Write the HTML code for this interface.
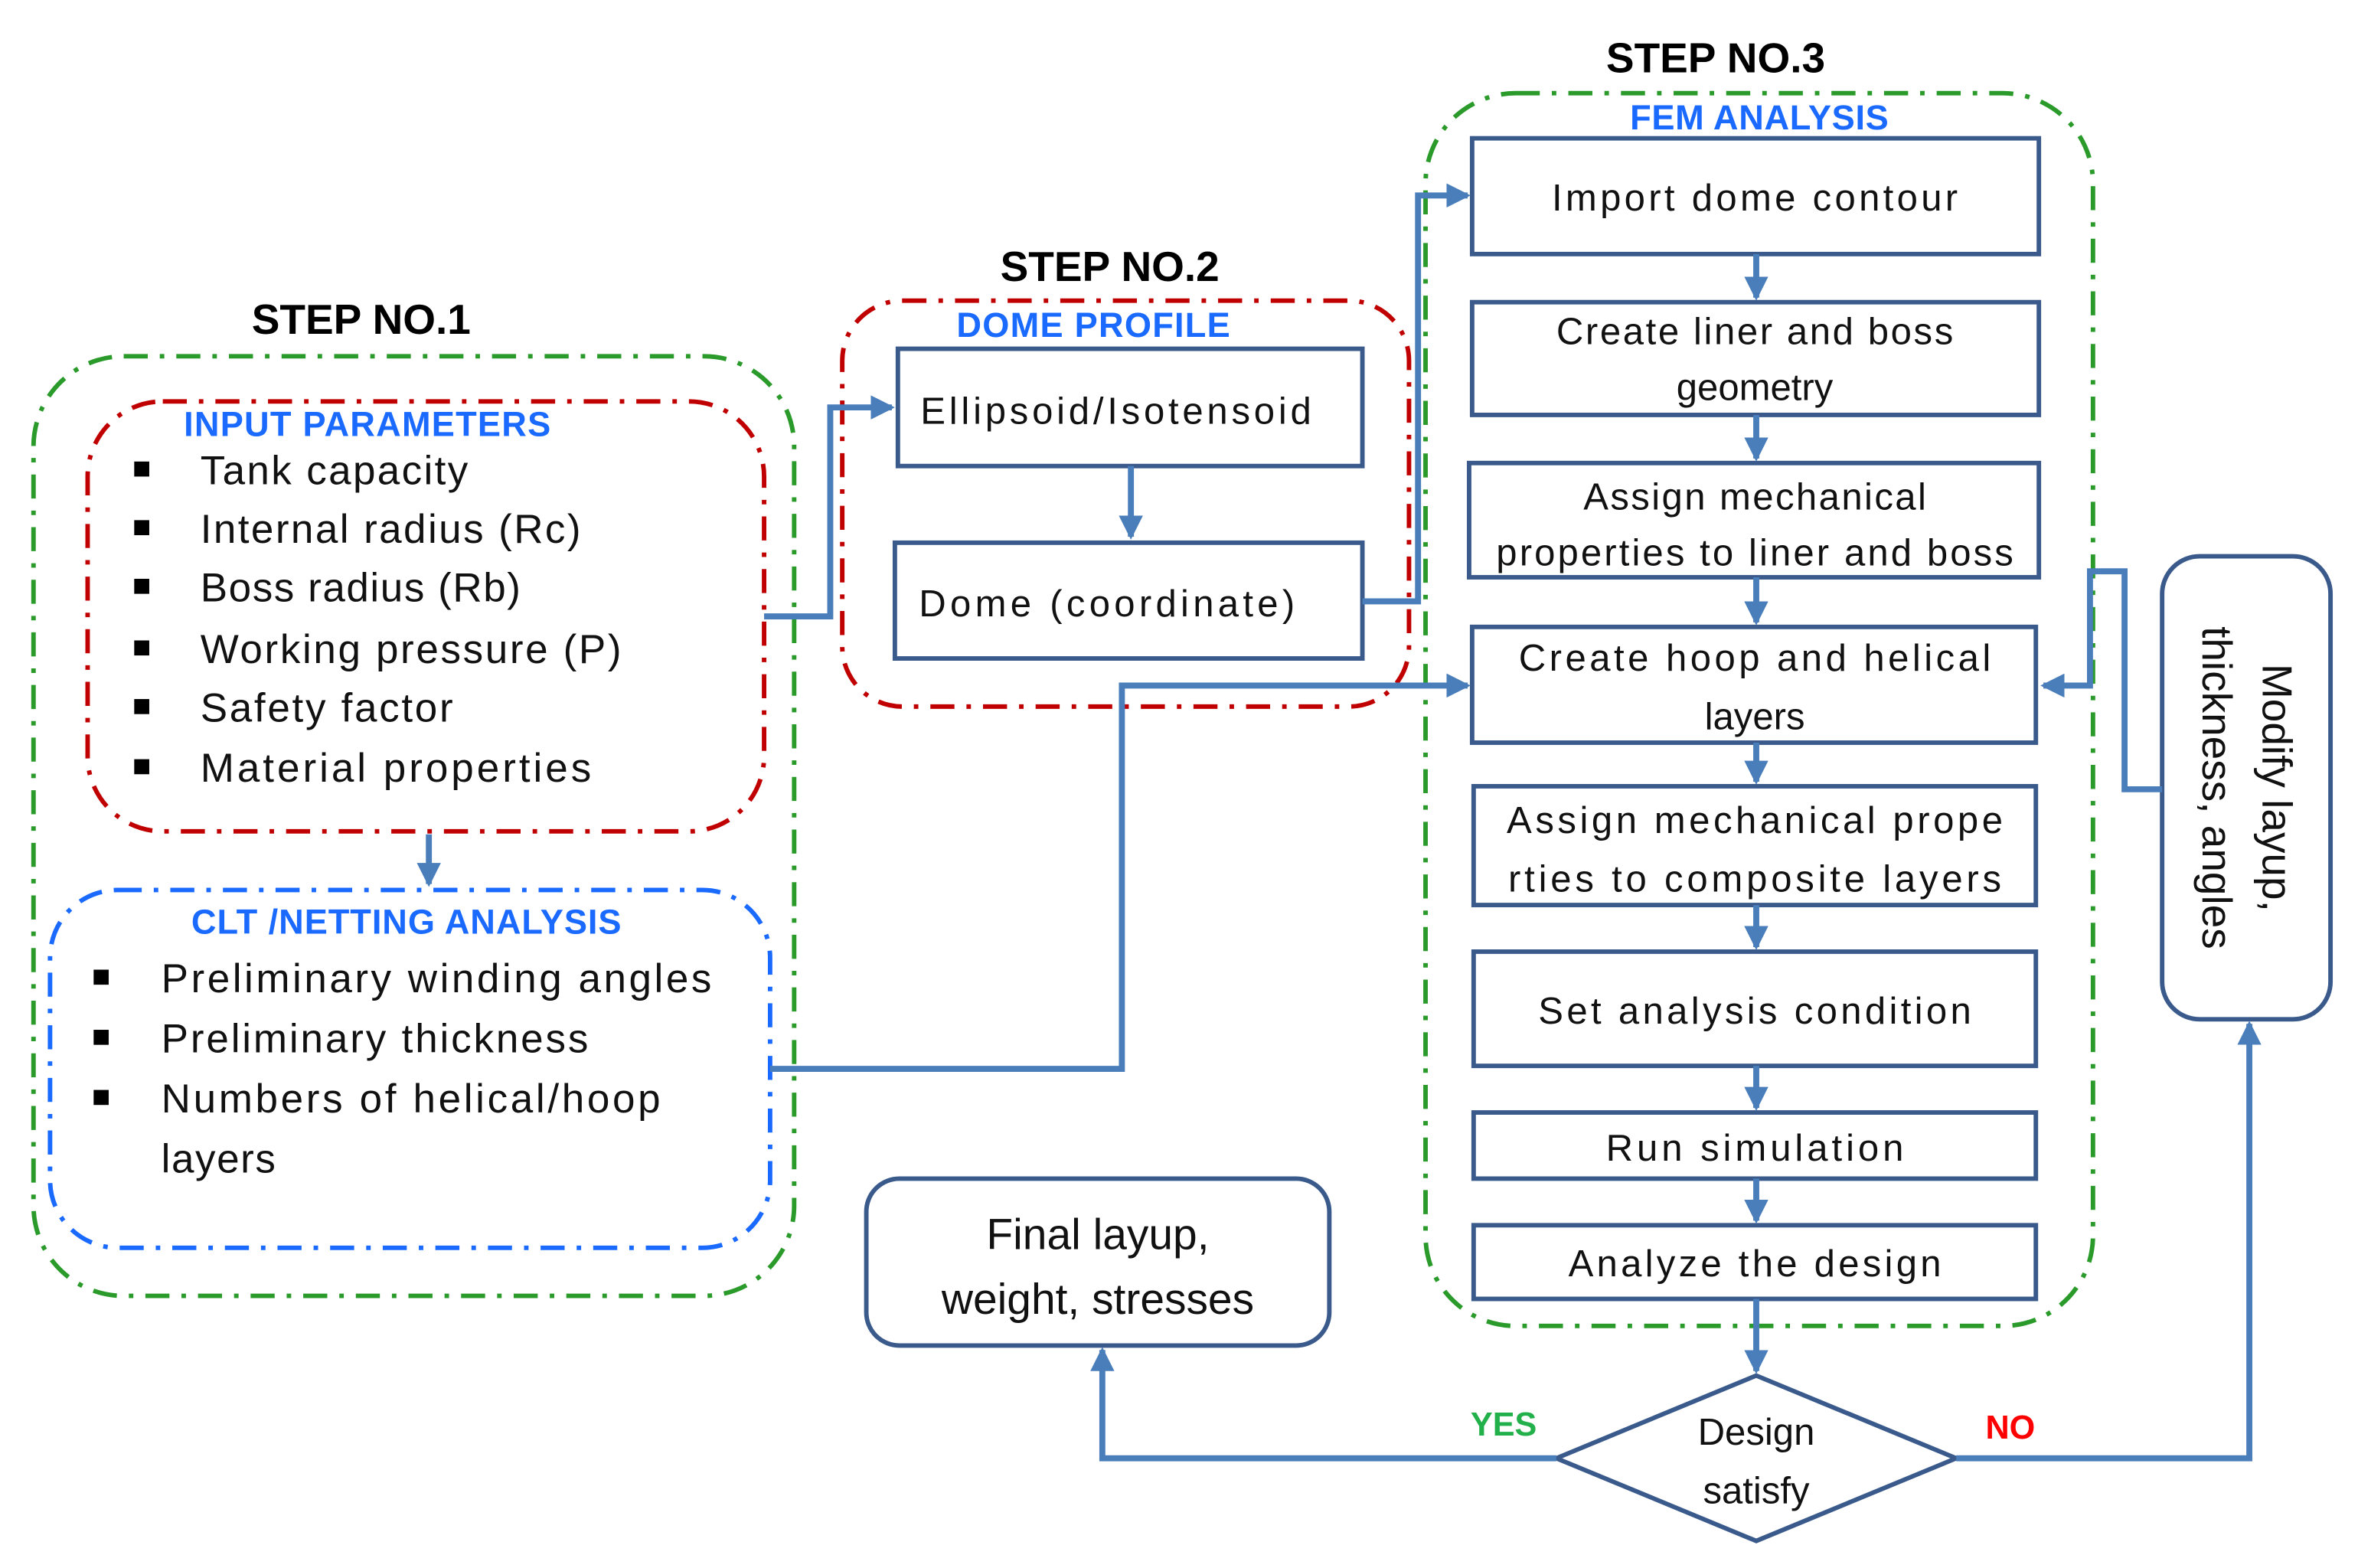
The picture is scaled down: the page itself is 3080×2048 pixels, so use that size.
<!DOCTYPE html>
<html><head><meta charset="utf-8"><style>html,body{margin:0;padding:0;background:#fff}svg{display:block}</style></head>
<body>
<svg width="3080" height="2048" viewBox="0 0 1568 1043" xmlns="http://www.w3.org/2000/svg" font-family="Liberation Sans, sans-serif">
<defs>
<marker id="a" markerWidth="4" markerHeight="4" refX="3.5" refY="2" orient="auto" markerUnits="strokeWidth"><path d="M0,0 L4,2 L0,4 z" fill="#4a7ebb"/></marker>
</defs>
<rect x="22" y="237" width="506" height="625" rx="60" fill="none" stroke="#2a9a2a" stroke-width="3" stroke-dasharray="16,8,3,8"/>
<rect x="58" y="267" width="450" height="286" rx="50" fill="none" stroke="#c00000" stroke-width="3" stroke-dasharray="16,8,3,8"/>
<rect x="33" y="592" width="479" height="238" rx="45" fill="none" stroke="#1a6aff" stroke-width="3" stroke-dasharray="16,8,3,8"/>
<rect x="560" y="200" width="377" height="270" rx="40" fill="none" stroke="#c00000" stroke-width="3" stroke-dasharray="16,8,3,8"/>
<rect x="948" y="62" width="444" height="820" rx="60" fill="none" stroke="#2a9a2a" stroke-width="3" stroke-dasharray="16,8,3,8"/>

<g font-weight="bold" font-size="28" fill="#000" text-anchor="middle">
<text x="240" y="222">STEP NO.1</text>
<text x="738" y="187">STEP NO.2</text>
<text x="1141" y="48">STEP NO.3</text>
</g>
<g font-weight="bold" font-size="23" fill="#1a6aff" text-anchor="middle">
<text x="244" y="290" textLength="244">INPUT PARAMETERS</text>
<text x="270" y="621" textLength="286">CLT /NETTING ANALYSIS</text>
<text x="727" y="224" textLength="182">DOME PROFILE</text>
<text x="1170" y="86" textLength="172">FEM ANALYSIS</text>
</g>

<g font-size="27" fill="#111">
<g fill="#000"><rect x="89" y="307" width="10" height="10"/><rect x="89" y="346" width="10" height="10"/><rect x="89" y="385" width="10" height="10"/><rect x="89" y="426" width="10" height="10"/><rect x="89" y="465" width="10" height="10"/><rect x="89" y="505" width="10" height="10"/>
<rect x="62" y="645" width="10" height="10"/><rect x="62" y="685" width="10" height="10"/><rect x="62" y="725" width="10" height="10"/></g>
<text x="133" y="322" textLength="178">Tank capacity</text>
<text x="133" y="361" textLength="253">Internal radius (Rc)</text>
<text x="133" y="400" textLength="213">Boss radius (Rb)</text>
<text x="133" y="441" textLength="280">Working pressure (P)</text>
<text x="133" y="480" textLength="168">Safety factor</text>
<text x="133" y="520" textLength="260">Material properties</text>
<text x="107" y="660" textLength="366">Preliminary  winding angles</text>
<text x="107" y="700" textLength="284">Preliminary thickness</text>
<text x="107" y="740" textLength="332">Numbers of helical/hoop</text>
<text x="107" y="780" textLength="76">layers</text>
</g>

<g fill="#fff" stroke="#3a5a8c" stroke-width="3">
<rect x="597" y="232" width="309" height="78"/>
<rect x="595" y="361" width="311" height="77"/>
<rect x="979" y="92" width="377" height="77"/>
<rect x="979" y="201" width="377" height="75"/>
<rect x="977" y="308" width="379" height="76"/>
<rect x="979" y="417" width="375" height="77"/>
<rect x="980" y="523" width="374" height="79"/>
<rect x="980" y="633" width="374" height="76"/>
<rect x="980" y="740" width="374" height="44"/>
<rect x="980" y="815" width="374" height="49"/>
<rect x="576" y="784" width="308" height="111" rx="22"/>
<rect x="1438" y="370" width="112" height="308" rx="25"/>
<polygon points="1168,915 1301,970 1168,1025 1035,970"/>
</g>

<g font-size="25" fill="#111" text-anchor="middle">
<text x="742" y="282" textLength="260">Ellipsoid/Isotensoid</text>
<text x="736" y="410" textLength="250">Dome (coordinate)</text>
<text x="1167" y="140" textLength="270">Import dome contour</text>
<text x="1167" y="229" textLength="264">Create liner and boss</text>
<text x="1167" y="266">geometry</text>
<text x="1167" y="339" textLength="228">Assign mechanical</text>
<text x="1167" y="376" textLength="344">properties to liner and boss</text>
<text x="1167" y="446" textLength="314">Create hoop and helical</text>
<text x="1167" y="485">layers</text>
<text x="1167" y="554" textLength="330">Assign mechanical prope</text>
<text x="1167" y="593" textLength="328">rties to composite layers</text>
<text x="1167" y="681" textLength="288">Set analysis condition</text>
<text x="1167" y="772" textLength="198">Run simulation</text>
<text x="1167" y="849" textLength="248">Analyze the design</text>
<text x="730" y="831" font-size="29">Final layup,</text>
<text x="730" y="874" font-size="29">weight, stresses</text>
<text x="1168" y="961">Design</text>
<text x="1168" y="1000">satisfy</text>
<text transform="translate(1505,524) rotate(90)" font-size="28">Modify layup,</text>
<text transform="translate(1465,524) rotate(90)" font-size="28">thickness, angles</text>
</g>
<text x="1000" y="955" font-size="22" font-weight="bold" fill="#22b04a" text-anchor="middle">YES</text>
<text x="1337" y="957" font-size="22" font-weight="bold" fill="#ff0000" text-anchor="middle">NO</text>

<g fill="none" stroke="#4a7ebb" stroke-width="4" marker-end="url(#a)">
<path d="M285,555 V588"/>
<path d="M508,410 H552 V271 H593"/>
<path d="M752,310 V357"/>
<path d="M906,400 H943 V130 H976"/>
<path d="M512,711 H746 V456 H976"/>
<path d="M1168,169 V198"/>
<path d="M1168,276 V305"/>
<path d="M1168,384 V414"/>
<path d="M1168,494 V520"/>
<path d="M1168,602 V630"/>
<path d="M1168,709 V737"/>
<path d="M1168,784 V812"/>
<path d="M1168,864 V912"/>
<path d="M1438,525 H1413 V380 H1390 V456 H1359"/>
<path d="M1035,970 H733 V898"/>
<path d="M1301,970 H1496 V681"/>
</g>
</svg>
</body></html>
